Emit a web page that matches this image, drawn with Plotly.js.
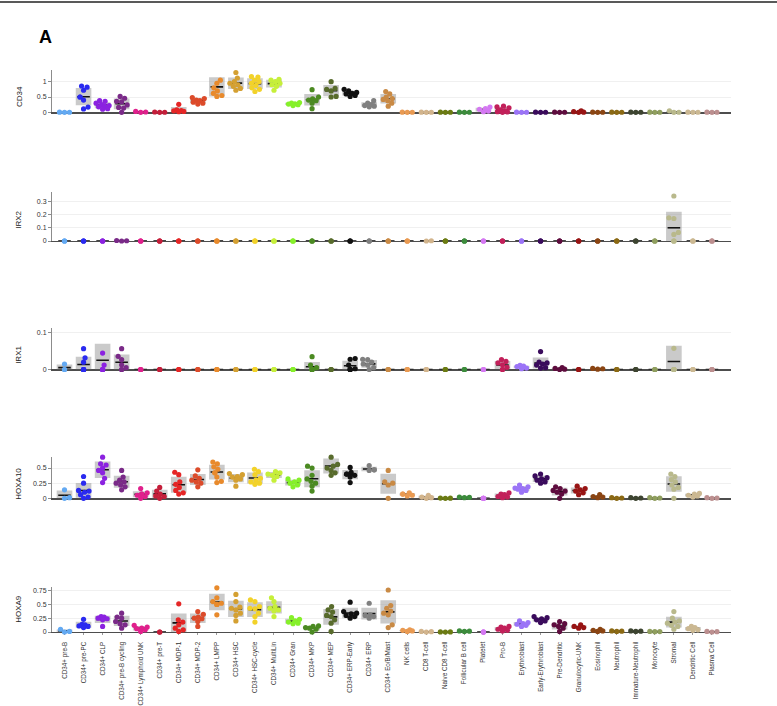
<!DOCTYPE html>
<html><head><meta charset="utf-8">
<script src="https://cdn.plot.ly/plotly-3.0.1.min.js"></script>
<style>html,body{margin:0;padding:0;background:#fff}#chart{width:777px;height:706px}</style>
</head><body><div id="chart"></div>
<script>
const categories = ["CD34+ pre-B","CD34+ pre-PC","CD34+ CLP","CD34+ pre-B cycling","CD34+ Lymphoid UNK","CD34+ pre-T","CD34+ MDP-1","CD34+ MDP-2","CD34+ LMPP","CD34+ HSC","CD34+ HSC-cycle","CD34+ MultiLin","CD34+ Gran","CD34+ MKP","CD34+ MEP","CD34+ ERP-Early","CD34+ ERP","CD34+ Eo/B/Mast","NK cells","CD8 T-cell","Naive CD8 T-cell","Follicular B cell","Platelet","Pro-B","Erythroblast","Early-Erythroblast","Pre-Dendritic","Granulocytic-UNK","Eosinophil","Neutrophil","Immature-Neutrophil","Monocyte","Stromal","Dendritic Cell","Plasma Cell"];
const colors = ["#63a9f2","#2a2af0","#8b22e0","#7a2a88","#e0208c","#c41e3a","#e52626","#dc4b2a","#e88a2c","#d4a032","#f2d22a","#c6ef3a","#86f02a","#4b8a22","#586b2c","#111111","#808080","#c98a45","#e99a52","#d2b48c","#6b7b12","#3c8c3c","#d478f2","#c2205a","#9b74f7","#3a0b5c","#5e0c3e","#981414","#8b4513","#8b6914","#3d4430","#8f9e5e","#b9b98c","#cbb892","#bc8f8f"];
const genes = ["CD34","IRX2","IRX1","HOXA10","HOXA9"];

const cd34 = [
 [0,0.003,0.006],[0.86,0.82,0.72,0.5,0.5,0.4,0.17,0.11],[0.38,0.36,0.3,0.25,0.22,0.2,0.18,0.12,0.1],[0.52,0.46,0.36,0.34,0.24,0.16,0.14,0.0],
 [0.03,0.01,0.0],[0.01,0.003,0.0],[0.26,0.08,0.06,0.05,0.03,0.02],[0.48,0.45,0.4,0.38,0.33,0.3,0.27],
 [1.45,1.05,0.95,0.8,0.7,0.62,0.55,0.52],[1.3,1.12,1.0,0.95,0.9,0.85,0.78,0.72],[1.17,1.15,1.05,1.0,0.95,0.88,0.8,0.75,0.68],[1.08,1.05,1.0,0.95,0.9,0.85,0.72],
 [0.32,0.3,0.28,0.27,0.25,0.22],[0.74,0.5,0.44,0.4,0.38,0.3,0.12],[1.0,0.78,0.75,0.7,0.52,0.5],[0.75,0.7,0.65,0.62,0.6,0.55,0.52],
 [0.38,0.3,0.25,0.22,0.2,0.18],[0.68,0.6,0.5,0.45,0.42,0.38,0.3,0.2],
 [0,0.003,0.006],[0,0.003,0.006],[0,0.003,0.006],[0,0.003,0.006],
 [0.17,0.12,0.1,0.04,0.02],[0.2,0.18,0.15,0.08,0.05,0.02,0.01,0.0],
 [0,0.003,0.006],[0,0.003,0.006],[0,0.003,0.006],[0.045,0.02,0.005,0.0],
 [0,0.003,0.006],[0,0.003,0.006],[0,0.003,0.006],[0,0.003,0.006],
 [0.05,0.003,0.0],[0,0.003,0.006],[0,0.003,0.006]
];
const irx2 = [
 [0,0,0],[0,0,0],[0,0,0],[0.004,0.002,0.0],[0,0,0],[0,0,0],[0,0,0],[0,0,0],
 [0,0,0],[0,0,0],[0,0,0],[0,0,0],[0,0,0],[0,0,0],[0,0,0],[0,0,0],
 [0,0,0],[0,0,0],[0,0,0],[0.002,0.0],[0,0,0],[0,0,0],[0,0,0],[0,0,0],
 [0,0,0],[0,0,0],[0,0,0],[0,0,0],[0,0,0],[0,0,0],[0,0,0],[0,0,0],
 [0.34,0.175,0.17,0.065,0.05,0,0,0],[0,0,0],[0,0,0]
];
const irx1 = [
 [0.015,0,0],[0.057,0.032,0.02,0,0,0,0,0],[0.121,0.045,0.012,0,0,0,0],[0.057,0.036,0.027,0.013,0.005,0,0],
 [0,0,0],[0,0,0],[0,0,0],[0,0,0],[0,0,0],[0,0,0],[0,0,0],[0,0,0],[0,0,0],
 [0.035,0.012,0.005,0,0,0,0],[0,0,0],[0.03,0.028,0.012,0.002,0,0,0],[0.028,0.027,0.02,0.015,0.012,0.005,0],
 [0,0,0],[0,0,0],[0,0,0],[0,0,0],[0,0,0],[0,0,0],
 [0.027,0.022,0.018,0.013,0.006,0,0],[0.011,0.009,0.008,0.004,0.002],[0.049,0.02,0.018,0.015,0.012,0.005,0.004],
 [0.005,0.003,0.001,0],[0,0,0],[0.003,0.002,0.001],[0,0,0],[0,0,0],[0,0,0],
 [0.116,0.058,0,0,0,0,0,0],[0,0,0],[0,0,0]
];
const hoxa10 = [
 [0.14,0.01,0.0],[0.36,0.25,0.13,0.12,0.1,0.06,0.02,0.0],[0.68,0.57,0.55,0.5,0.46,0.42,0.33,0.26],[0.46,0.35,0.3,0.27,0.25,0.22,0.19,0.14],
 [0.16,0.09,0.07,0.07,0.05,0.03,0.0],[0.18,0.12,0.07,0.04,0.03,0.0],[0.43,0.39,0.27,0.23,0.18,0.13,0.09,0.07],[0.47,0.37,0.33,0.3,0.27,0.25,0.19],
 [0.6,0.57,0.52,0.48,0.42,0.42,0.35,0.28,0.26],[0.41,0.39,0.36,0.35,0.32,0.3,0.2],[0.48,0.44,0.39,0.33,0.3,0.27,0.25,0.23],[0.44,0.42,0.4,0.38,0.36,0.3],
 [0.32,0.3,0.27,0.25,0.22,0.19],[0.53,0.5,0.38,0.32,0.28,0.25,0.2,0.12],[0.74,0.68,0.56,0.53,0.5,0.46,0.42,0.38],[0.51,0.43,0.4,0.4,0.38,0.35,0.26],
 [0.54,0.47,0.47,0.46],[0.46,0.27,0.25,0.22,0.0],
 [0.09,0.07,0.07,0.05,0.04],[0.05,0.02,0.01,0.0],[0,0.002,0.004],[0.02,0.015,0.01],
 [0,0,0,0,0],[0.09,0.07,0.06,0.03,0.02,0.01],[0.22,0.19,0.17,0.16,0.15,0.13,0.1],[0.4,0.37,0.34,0.32,0.3,0.27,0.25],
 [0.19,0.16,0.13,0.12,0.1,0.07,0.0],[0.2,0.16,0.14,0.12,0.09,0.06],[0.06,0.03,0.02,0.01],[0.01,0.005,0],
 [0.01,0.005,0],[0.01,0.005,0],[0.4,0.36,0.31,0.27,0.22,0.18,0.15,0.0],[0.08,0.07,0.05,0.04,0.02],[0.01,0.005,0]
];
const hoxa9 = [
 [0.05,0.01,0.0],[0.23,0.14,0.13,0.11,0.1,0.08],[0.28,0.27,0.25,0.24,0.22,0.1],[0.34,0.27,0.25,0.19,0.15,0.13,0.07],
 [0.12,0.09,0.07,0.06,0.04,0.01],[0,0],[0.51,0.22,0.18,0.13,0.07,0.04,0.01],[0.37,0.32,0.27,0.25,0.24,0.19,0.1],
 [0.8,0.62,0.55,0.52,0.5,0.5,0.31],[0.68,0.55,0.45,0.43,0.4,0.34,0.3,0.2],[0.58,0.55,0.46,0.43,0.42,0.34,0.28,0.18],[0.62,0.55,0.46,0.43,0.4,0.38,0.28],
 [0.26,0.23,0.2,0.18,0.16,0.15],[0.11,0.1,0.08,0.07,0.05,0.0],[0.46,0.4,0.36,0.3,0.28,0.22,0.16,0.01],[0.54,0.37,0.34,0.33,0.3,0.28,0.25],
 [0.52,0.31,0.3,0.28,0.25],[0.76,0.48,0.43,0.38,0.34,0.31,0.13,0.08],
 [0.04,0.03,0.02,0.01],[0.01,0.005,0],[0.002,0.001,0],[0.02,0.015,0.01],
 [0,0,0,0],[0.1,0.09,0.07,0.05,0.03,0.02],[0.2,0.17,0.15,0.14,0.12,0.1],[0.28,0.26,0.24,0.22,0.2,0.17],
 [0.19,0.15,0.13,0.1,0.07,0.01],[0.13,0.1,0.08,0.07],[0.05,0.03,0.02,0.01],[0.02,0.015,0.01],
 [0.02,0.015,0.01],[0.01,0.008,0.006],[0.37,0.25,0.2,0.18,0.16,0.12,0.1,0.05],[0.1,0.08,0.06,0.04,0.03],[0.01,0.005,0]
];
const ticksCD34 = [0,0.5,1];
const ticksIRX2 = [0,0.1,0.2,0.3];
const ticksIRX1 = [0,0.1];
const ticksHOXA10 = [0,0.25,0.5];
const ticksHOXA9 = [0,0.25,0.5,0.75];

// ---- layout geometry (px) ----
const W = 777, H = 706, ML = 52, MR = 46, MT = 70, MB = 74;
const plotW = W - ML - MR, plotH = H - MT - MB;
const xRange = [-0.657, 35.0];
const pxPerX = plotW / (xRange[1] - xRange[0]);
const panels = [
  {data: cd34,   ticks: ticksCD34,   dom: [0.9247, 1.0],    yr: [0, 1.382], lab: 0.5},
  {data: irx2,   ticks: ticksIRX2,   dom: [0.6957, 0.7829], yr: [0, 0.37],  lab: 0.16},
  {data: irx1,   ticks: ticksIRX1,   dom: [0.4671, 0.5404], yr: [0, 0.1126], lab: 0.04},
  {data: hoxa10, ticks: ticksHOXA10, dom: [0.2379, 0.3119], yr: [0, 0.687], lab: 0.24},
  {data: hoxa9,  ticks: ticksHOXA9,  dom: [0, 0.0806],      yr: [0, 0.82],  lab: 0.42}
];

function stats(v) {
  const n = v.length, m = v.reduce((a, b) => a + b, 0) / n;
  const sd = n > 1 ? Math.sqrt(v.reduce((a, b) => a + (b - m) * (b - m), 0) / (n - 1)) : 0;
  return {m, sd};
}
// compact beeswarm: offsets in px limited to +-cap, identical values share a spot
function swarm(vals, pxPerY, d, cap) {
  const order = vals.map((v, i) => i).sort((a, b) => vals[a] - vals[b]);
  const placed = [], off = new Array(vals.length).fill(0);
  let flip = false;
  order.forEach(i => {
    const v = vals[i];
    const same = placed.find(p => p.v === v);
    if (same) { off[i] = same.x / pxPerX; return; }
    const y = v * pxPerY;
    const cands = [0];
    for (let s = 0.5; s <= cap + 1e-9; s += 0.5) { if (flip) cands.push(-s, s); else cands.push(s, -s); }
    let chosen = null, bestC = 0, bestD = -1;
    for (const c of cands) {
      const md = placed.length ? Math.min(...placed.map(p => Math.hypot(p.x - c, p.y - y))) : 1e9;
      if (md >= d) { chosen = c; break; }
      if (md > bestD) { bestD = md; bestC = c; }
    }
    if (chosen === null) chosen = bestC;
    if (chosen !== 0) flip = !flip;
    placed.push({v, x: chosen, y});
    off[i] = chosen / pxPerX;
  });
  return off;
}

const traces = [], annotations = [];
const layout = {
  width: W, height: H, margin: {l: ML, r: MR, t: MT, b: MB},
  paper_bgcolor: '#fff', plot_bgcolor: '#fff', showlegend: false, barmode: 'overlay',
  font: {family: 'Liberation Sans, Arial, sans-serif', color: '#333'},
  shapes: [{type: 'line', xref: 'paper', yref: 'paper', x0: -ML / plotW, x1: (W - ML) / plotW,
            y0: 1 + (MT - 2) / plotH, y1: 1 + (MT - 2) / plotH, line: {color: '#222', width: 1.5}}],
  annotations: annotations
};
const idx = categories.map((c, i) => i);

panels.forEach((p, k) => {
  const xa = k === 0 ? 'x' : 'x' + (k + 1), ya = k === 0 ? 'y' : 'y' + (k + 1);
  const pxPerY = (p.dom[1] - p.dom[0]) * plotH / (p.yr[1] - p.yr[0]);
  const lo = [], len = [], lx = [], ly = [], dx = [], dy = [], dc = [];
  p.data.forEach((vals, i) => {
    const s = stats(vals);
    const b = Math.max(0, s.m - s.sd), t = s.m + s.sd;
    lo.push(b); len.push(t - b);
    lx.push(i - 0.33, i + 0.33, null); ly.push(s.m, s.m, null);
    const off = swarm(vals, pxPerY, 4.6, 6.5);
    vals.forEach((v, j) => { dx.push(i + off[j]); dy.push(v); dc.push(colors[i]); });
  });
  traces.push({type: 'bar', x: idx, y: len, base: lo, width: 0.82, xaxis: xa, yaxis: ya,
    marker: {color: 'rgba(150,150,150,0.5)', line: {width: 0}}, hoverinfo: 'skip'});
  traces.push({type: 'scatter', mode: 'lines', x: lx, y: ly, xaxis: xa, yaxis: ya, cliponaxis: false,
    line: {color: '#111', width: 1.6}, hoverinfo: 'skip'});
  traces.push({type: 'scatter', mode: 'markers', x: dx, y: dy, xaxis: xa, yaxis: ya, cliponaxis: false,
    marker: {color: dc, size: 5.2, line: {width: 0}}, hoverinfo: 'skip'});

  const bottom = k === panels.length - 1;
  const xcfg = {range: xRange, anchor: ya, showgrid: false, zeroline: false, showline: true,
    linecolor: '#4d4d4d', linewidth: 1.3, layer: 'below traces', tickmode: 'array', tickvals: idx,
    ticktext: categories, showticklabels: bottom, ticks: bottom ? 'outside' : '', ticklen: 2,
    tickcolor: '#999', tickangle: -90, tickfont: {size: 6.3, color: '#333'}, automargin: false,
    ticklabelstandoff: 4};
  if (k > 0) xcfg.matches = 'x';
  layout[k === 0 ? 'xaxis' : 'xaxis' + (k + 1)] = xcfg;
  layout[k === 0 ? 'yaxis' : 'yaxis' + (k + 1)] = {domain: p.dom, range: p.yr, anchor: xa,
    tickmode: 'array', tickvals: p.ticks, showgrid: true, gridcolor: '#ececec', gridwidth: 0.8,
    zeroline: false, showline: true, linecolor: '#8c8c8c', linewidth: 1, layer: 'below traces',
    ticks: 'outside', ticklen: 3, tickcolor: '#8c8c8c', tickfont: {size: 7, color: '#333'}, automargin: false};
  annotations.push({text: genes[k], xref: 'paper', yref: ya, x: (19 - ML) / plotW, y: p.lab,
    textangle: -90, showarrow: false, xanchor: 'center', yanchor: 'middle', font: {size: 8, color: '#222'}});
});
annotations.push({text: '<b>A</b>', xref: 'paper', yref: 'paper', x: (37 - ML) / plotW, y: 1 + (MT - 37) / plotH,
  xanchor: 'left', yanchor: 'middle', showarrow: false, font: {size: 18, color: '#000'}});

Plotly.newPlot('chart', traces, layout, {displayModeBar: false, staticPlot: true});
</script></body></html>
